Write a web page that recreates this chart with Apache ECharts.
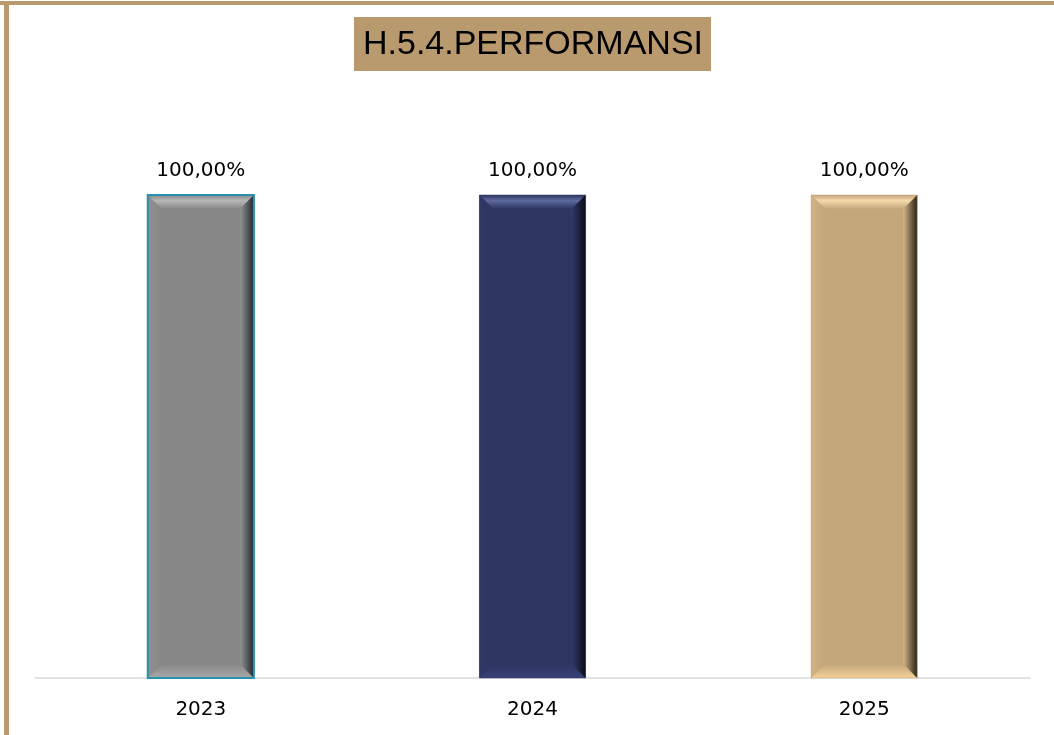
<!DOCTYPE html>
<html><head><meta charset="utf-8">
<script src="https://cdn.jsdelivr.net/npm/echarts@6/dist/echarts.min.js"></script>
<style>
html,body{margin:0;padding:0;background:#fff;}
#c{width:1054px;height:735px;}
</style></head><body>
<div id="c"></div>
<script>
var categories = ['2023', '2024', '2025'];
var values = [100, 100, 100];
var labels = ['100,00%', '100,00%', '100,00%'];
var titleText = 'H.5.4.PERFORMANSI';

var palette = [
  {base:'#878787', light:'#b8b8b8', dark:'#1f2a30', edge:'#2b8fae'},
  {base:'#2d3560', light:'#5e6a9e', dark:'#0a0c18', edge:'#2d3560'},
  {base:'#c4a67b', light:'#f3d9a8', dark:'#2a2115', edge:'#c4a67b'}
];

function renderItem(params, api) {
  var i = params.dataIndex;
  var p = palette[i];
  var top = api.coord([api.value(0), api.value(1)]);
  var bot = api.coord([api.value(0), 0]);
  var w = api.size([1, 0])[0] * 0.32;
  var x0 = top[0] - w / 2, x1 = top[0] + w / 2, y0 = top[1], y1 = bot[1];
  var b = 14;
  var children = [
    {type:'rect', shape:{x:x0, y:y0, width:w, height:y1 - y0}, style:{fill:p.base}},
    {type:'polygon', shape:{points:[[x0,y0],[x1,y0],[x1-b,y0+b],[x0+b,y0+b]]},
      style:{fill:{type:'linear',x:0,y:0,x2:0,y2:1,colorStops:[{offset:0,color:p.base},{offset:0.4,color:p.light},{offset:1,color:p.base}]}}},
    {type:'polygon', shape:{points:[[x0,y1],[x1,y1],[x1-b,y1-b],[x0+b,y1-b]]},
      style:{fill:{type:'linear',x:0,y:0,x2:0,y2:1,colorStops:[{offset:0,color:p.base},{offset:1,color:echarts.color.lift(p.base,-0.25)}]}}},
    {type:'polygon', shape:{points:[[x0,y0],[x0+b,y0+b],[x0+b,y1-b],[x0,y1]]},
      style:{fill:{type:'linear',x:0,y:0,x2:1,y2:0,colorStops:[{offset:0,color:echarts.color.lift(p.base,-0.08)},{offset:1,color:p.base}]}}},
    {type:'polygon', shape:{points:[[x1,y0],[x1-b,y0+b],[x1-b,y1-b],[x1,y1]]},
      style:{fill:{type:'linear',x:0,y:0,x2:1,y2:0,colorStops:[{offset:0,color:echarts.color.lift(p.base,-0.1)},{offset:1,color:p.dark}]}}},
    {type:'rect', shape:{x:x0, y:y0, width:w, height:y1 - y0}, style:{fill:'none', stroke:p.edge, lineWidth:i===0?2:0.5}},
    {type:'text', style:{text:labels[i], x:top[0], y:y0 - 24, align:'center', verticalAlign:'middle',
      fill:'#000', font:'20px "DejaVu Sans", sans-serif'}}
  ];
  return {type:'group', children:children};
}

var chart = echarts.init(document.getElementById('c'));
chart.setOption({
  animation:false,
  backgroundColor:'#fff',
  graphic:[
    {type:'rect', left:0, top:1, shape:{width:1054, height:4}, style:{fill:'#b99a6e'}},
    {type:'rect', left:4, top:1, shape:{width:5, height:734}, style:{fill:'#b99a6e'}},
    {type:'rect', left:354, top:17, shape:{width:357, height:54}, style:{fill:'#b99a6e'}},
    {type:'text', x:533, y:45, style:{text:titleText, fill:'#000', align:'center', verticalAlign:'middle', font:'34px "Liberation Sans", Arial, sans-serif'}}
  ],
  grid:{left:35, right:24, top:195, bottom:57},
  xAxis:{type:'category', data:categories,
    axisLine:{lineStyle:{color:'#d9d9d9', width:1.5}}, axisTick:{show:false},
    axisLabel:{color:'#000', fontSize:20, margin:22, fontFamily:'"DejaVu Sans", sans-serif'}},
  yAxis:{type:'value', min:0, max:100, show:false, splitLine:{show:false}},
  series:[{type:'custom', renderItem:renderItem, data:categories.map(function(c,i){return [i, values[i]];}), encode:{x:0,y:1}}]
});
</script>
</body></html>
